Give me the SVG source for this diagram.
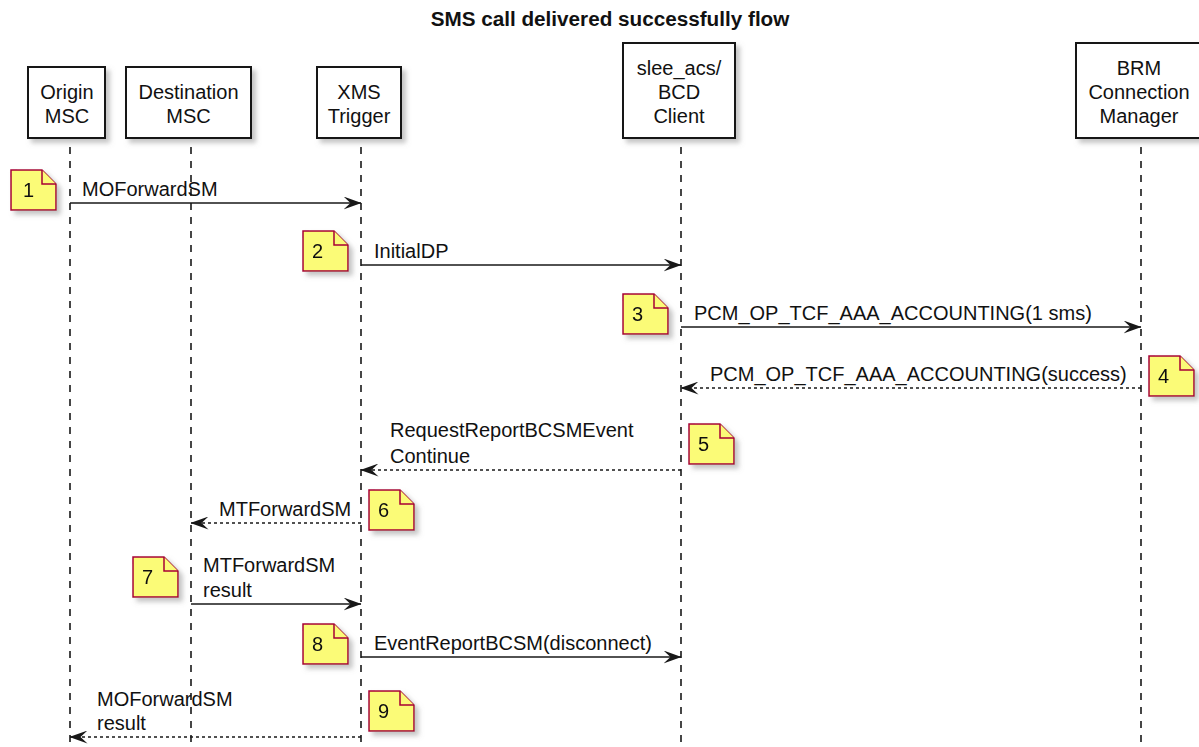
<svg xmlns="http://www.w3.org/2000/svg" width="1199" height="747" viewBox="0 0 1199 747">
<style>
text{font-family:"Liberation Sans",Arial,sans-serif;fill:#111}
.title{font-size:20.7px;font-weight:bold;text-anchor:middle}
.pbox{fill:#fff;stroke:#181818;stroke-width:2;filter:url(#sh)}
.ptxt{font-size:20px;text-anchor:middle}
.life{stroke:#181818;stroke-width:1.6;stroke-dasharray:7 7;fill:none}
.msg{stroke:#181818;stroke-width:1.7;fill:none;marker-end:url(#ah)}
.ret{stroke-dasharray:3 3}
.mtxt{font-size:20px}
.note{fill:#FBFB77;stroke:#A80036;stroke-width:1.5}
.nsh{filter:url(#sh)}
.ntxt{font-size:20px}
</style>
<defs>
<filter id="sh" x="-20%" y="-20%" width="150%" height="150%">
<feGaussianBlur in="SourceAlpha" stdDeviation="2.5"/>
<feOffset dx="4" dy="4" result="b"/>
<feColorMatrix in="b" type="matrix" values="0 0 0 0 0.3 0 0 0 0 0.3 0 0 0 0 0.3 0 0 0 0.55 0"/>
<feMerge><feMergeNode/><feMergeNode in="SourceGraphic"/></feMerge>
</filter>
<marker id="ah" viewBox="0 0 18 13" refX="17.5" refY="6.5" markerWidth="18" markerHeight="13" markerUnits="userSpaceOnUse" orient="auto">
<path d="M0,0 L18,6.5 L0,13 L7,6.5 Z" fill="#181818"/>
</marker>
</defs>
<rect width="1199" height="747" fill="#fff"/>
<text class="title" x="610" y="26">SMS call delivered successfully flow</text>

<g id="lifelines">
<line class="life" x1="70" y1="147" x2="70" y2="747"/>
<line class="life" x1="191" y1="147" x2="191" y2="747"/>
<line class="life" x1="361" y1="147" x2="361" y2="747"/>
<line class="life" x1="681" y1="147" x2="681" y2="747"/>
<line class="life" x1="1141" y1="147" x2="1141" y2="747"/>
</g>

<g id="origin_msc">
<rect class="pbox" x="28" y="67" width="77" height="71"/>
<text class="ptxt" x="67" y="99">Origin</text>
<text class="ptxt" x="67" y="123">MSC</text>
</g>
<g id="destination_msc">
<rect class="pbox" x="126" y="67" width="125" height="71"/>
<text class="ptxt" x="188.5" y="99">Destination</text>
<text class="ptxt" x="188.5" y="123">MSC</text>
</g>
<g id="xms_trigger">
<rect class="pbox" x="317" y="67" width="84" height="71"/>
<text class="ptxt" x="359" y="99">XMS</text>
<text class="ptxt" x="359" y="123">Trigger</text>
</g>
<g id="slee_acs">
<rect class="pbox" x="623" y="43" width="112" height="95"/>
<text class="ptxt" x="679" y="75">slee_acs/</text>
<text class="ptxt" x="679" y="99">BCD</text>
<text class="ptxt" x="679" y="123">Client</text>
</g>
<g id="brm">
<rect class="pbox" x="1076" y="43" width="130" height="95"/>
<text class="ptxt" x="1139" y="75">BRM</text>
<text class="ptxt" x="1139" y="99">Connection</text>
<text class="ptxt" x="1139" y="123">Manager</text>
</g>

<g id="connectors">
<line class="msg" x1="70" y1="203" x2="361" y2="203"/>
<text class="mtxt" x="82" y="196">MOForwardSM</text>
<line class="msg" x1="361" y1="265" x2="681" y2="265"/>
<text class="mtxt" x="374" y="258">InitialDP</text>
<line class="msg" x1="681" y1="327" x2="1141" y2="327"/>
<text class="mtxt" x="694" y="320">PCM_OP_TCF_AAA_ACCOUNTING(1 sms)</text>
<line class="msg ret" x1="1141" y1="388" x2="681" y2="388"/>
<text class="mtxt" x="710" y="381">PCM_OP_TCF_AAA_ACCOUNTING(success)</text>
<line class="msg ret" x1="681" y1="470" x2="361" y2="470"/>
<text class="mtxt" x="390" y="437">RequestReportBCSMEvent</text>
<text class="mtxt" x="390" y="463">Continue</text>
<line class="msg ret" x1="361" y1="523" x2="191" y2="523"/>
<text class="mtxt" x="219" y="516">MTForwardSM</text>
<line class="msg" x1="191" y1="604" x2="361" y2="604"/>
<text class="mtxt" x="203" y="572">MTForwardSM</text>
<text class="mtxt" x="203" y="597">result</text>
<line class="msg" x1="361" y1="657" x2="681" y2="657"/>
<text class="mtxt" x="374" y="650">EventReportBCSM(disconnect)</text>
<line class="msg ret" x1="361" y1="737" x2="70" y2="737"/>
<text class="mtxt" x="97" y="706">MOForwardSM</text>
<text class="mtxt" x="97" y="730">result</text>
</g>

<g id="note1" class="nsh" transform="translate(11,170)">
<path class="note" d="M0,0 L31,0 L45,14 L45,40 L0,40 Z"/><path class="note" d="M31,0 L31,14 L45,14"/>
<text class="ntxt" x="12" y="27">1</text>
</g>
<g id="note2" class="nsh" transform="translate(303,231)">
<path class="note" d="M0,0 L31,0 L45,14 L45,40 L0,40 Z"/><path class="note" d="M31,0 L31,14 L45,14"/>
<text class="ntxt" x="9" y="27">2</text>
</g>
<g id="note3" class="nsh" transform="translate(623,294)">
<path class="note" d="M0,0 L31,0 L45,14 L45,40 L0,40 Z"/><path class="note" d="M31,0 L31,14 L45,14"/>
<text class="ntxt" x="9" y="27">3</text>
</g>
<g id="note4" class="nsh" transform="translate(1149,356)">
<path class="note" d="M0,0 L31,0 L45,14 L45,40 L0,40 Z"/><path class="note" d="M31,0 L31,14 L45,14"/>
<text class="ntxt" x="9" y="27">4</text>
</g>
<g id="note5" class="nsh" transform="translate(689,424)">
<path class="note" d="M0,0 L31,0 L45,14 L45,40 L0,40 Z"/><path class="note" d="M31,0 L31,14 L45,14"/>
<text class="ntxt" x="9" y="27">5</text>
</g>
<g id="note6" class="nsh" transform="translate(369,490)">
<path class="note" d="M0,0 L31,0 L45,14 L45,40 L0,40 Z"/><path class="note" d="M31,0 L31,14 L45,14"/>
<text class="ntxt" x="9" y="27">6</text>
</g>
<g id="note7" class="nsh" transform="translate(133,557)">
<path class="note" d="M0,0 L31,0 L45,14 L45,40 L0,40 Z"/><path class="note" d="M31,0 L31,14 L45,14"/>
<text class="ntxt" x="9" y="27">7</text>
</g>
<g id="note8" class="nsh" transform="translate(303,624)">
<path class="note" d="M0,0 L31,0 L45,14 L45,40 L0,40 Z"/><path class="note" d="M31,0 L31,14 L45,14"/>
<text class="ntxt" x="9" y="27">8</text>
</g>
<g id="note9" class="nsh" transform="translate(369,691)">
<path class="note" d="M0,0 L31,0 L45,14 L45,40 L0,40 Z"/><path class="note" d="M31,0 L31,14 L45,14"/>
<text class="ntxt" x="9" y="27">9</text>
</g>
</svg>
